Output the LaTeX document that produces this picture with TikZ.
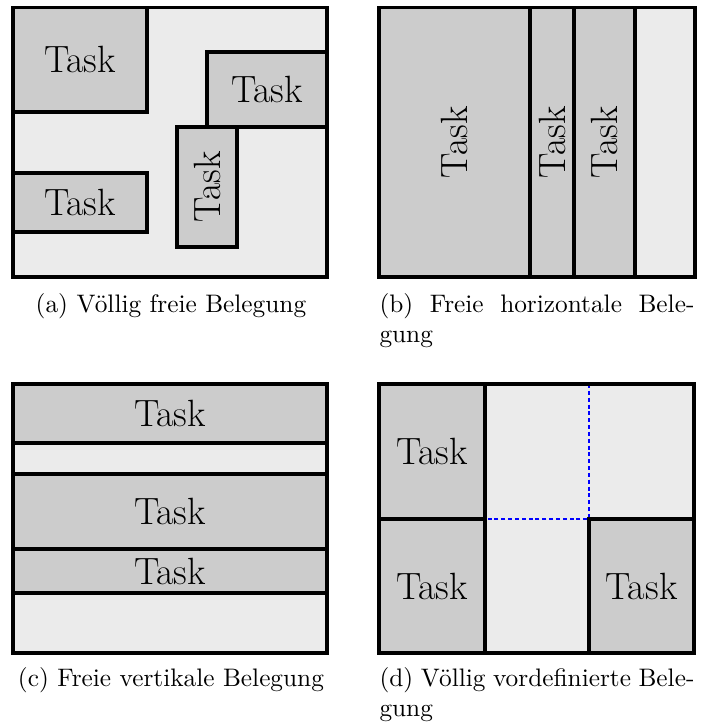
\documentclass[tikz,border=0pt]{standalone}
\usepackage{tikz}

\begin{document}
\begin{tikzpicture}[x=0.395pt, y=-0.395pt,
      free/.style = {fill=black!8},
      task/.style = {draw, very thick, fill=black!20},
      outline/.style = {draw, very thick},
      tasktext/.style = {font=\fontsize{15}{18}\selectfont, inner sep=0pt},
      slotline/.style = {draw=blue, line width=0.9pt, dash pattern=on 1.6pt off 1.1pt},
      subcap/.style = {anchor=base west, inner sep=0pt, text width=124.4pt}]
    \useasboundingbox (0,0) rectangle (705,727);

    % (a) free placement
    \fill[free] (13,7.5) rectangle (327,277);
    \draw[task] (13,7.5) rectangle (147,112) node[tasktext, midway] (a1) {Task};
    \draw[task] (207,52) rectangle (327,127) node[tasktext, midway] (a2) {Task};
    \draw[task] (177,127) rectangle (237,247) node[tasktext, midway, rotate=90] (a3) {Task};
    \draw[task] (13,173) rectangle (147,232) node[tasktext, midway] (a4) {Task};
    \draw[outline] (13,7.5) rectangle (327,277);
    \node[subcap, align=center] (capa) at (13,312) {(a) Völlig freie Belegung};

    % (b) columns
    \fill[free] (379,7.5) rectangle (695,277);
    \draw[task] (379,7.5) rectangle (530,277) node[tasktext, midway, rotate=90] (b1) {Task};
    \draw[task] (530,7.5) rectangle (574,277) node[tasktext, midway, rotate=90] (b2) {Task};
    \draw[task] (574,7.5) rectangle (635,277) node[tasktext, midway, rotate=90] (b3) {Task};
    \draw[outline] (379,7.5) rectangle (695,277);
    \node[subcap, align=justify] (capb) at (379,312) {(b) Freie horizontale Bele-\linebreak gung};

    % (c) rows
    \fill[free] (13,384) rectangle (327,653);
    \draw[task] (13,384) rectangle (327,443) node[tasktext, midway] (c1) {Task};
    \draw[task] (13,474) rectangle (327,549) node[tasktext, midway] (c2) {Task};
    \draw[task] (13,549) rectangle (327,593) node[tasktext, midway] (c3) {Task};
    \draw[outline] (13,384) rectangle (327,653);
    \node[subcap, align=center] (capc) at (13,686.5) {(c) Freie vertikale Belegung};

    % (d) fixed slots
    \fill[free] (379,384) rectangle (694,653);
    \draw[slotline] (589,384) -- (589,519) -- (485,519);
    \draw[task] (379,384) rectangle (485,519) node[tasktext, midway] (d1) {Task};
    \draw[task] (379,519) rectangle (485,653) node[tasktext, midway] (d2) {Task};
    \draw[task] (589,519) rectangle (694,653) node[tasktext, midway] (d3) {Task};
    \draw[outline] (485,384) -- (485,653);
    \draw[outline] (379,384) rectangle (694,653);
    \node[subcap, align=justify] (capd) at (379,686.5) {(d) Völlig vordefinierte Bele-\linebreak gung};
\end{tikzpicture}
\end{document}
